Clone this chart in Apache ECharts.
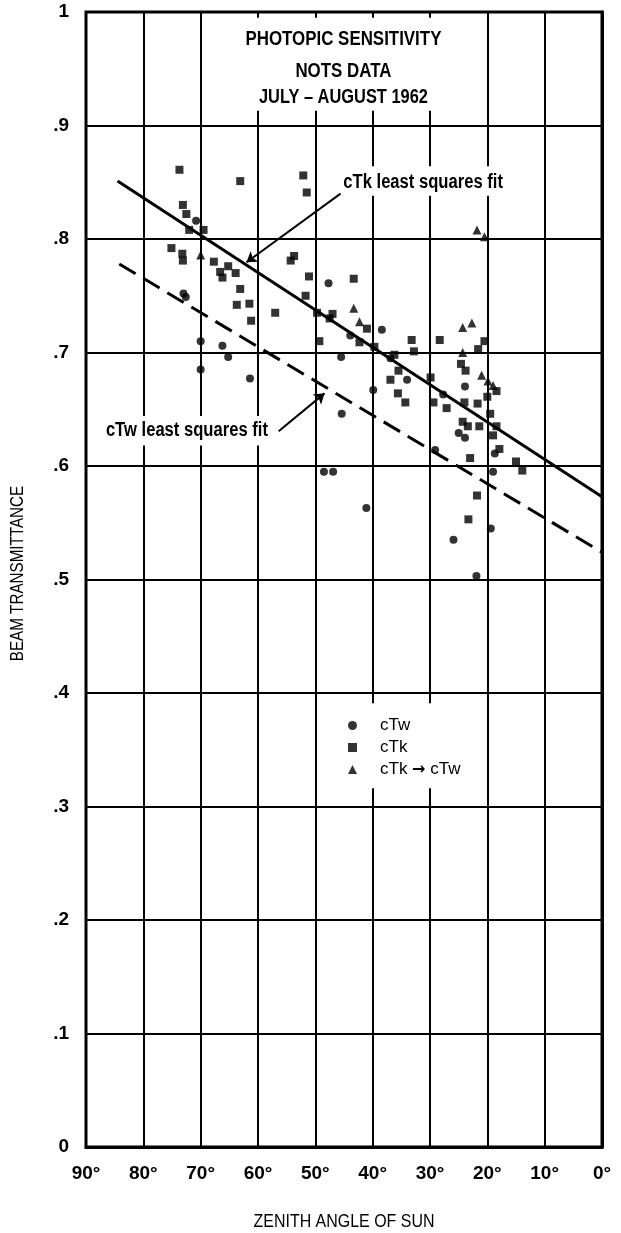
<!DOCTYPE html>
<html>
<head>
<meta charset="utf-8">
<script src="https://cdn.jsdelivr.net/npm/echarts@6/dist/echarts.min.js"></script>
<style>
  html, body { margin: 0; padding: 0; background: #fff; }
  #chart { width: 621px; height: 1233px; }
</style>
</head>
<body>
<div id="chart"></div>
<script>
// Axis ticks
const xTicks = [90, 80, 70, 60, 50, 40, 30, 20, 10, 0];
const xTickLabels = ['90°', '80°', '70°', '60°', '50°', '40°', '30°', '20°', '10°', '0°'];
const yTickLabels = ['0', '.1', '.2', '.3', '.4', '.5', '.6', '.7', '.8', '.9', '1'];

// Observations: [zenith angle (deg), beam transmittance]
const cTw = [
  [70.8, 0.816], [73.0, 0.752], [72.6, 0.749], [70.0, 0.710], [70.0, 0.685],
  [66.2, 0.706], [65.2, 0.696], [61.4, 0.677], [47.7, 0.761], [38.4, 0.720],
  [43.9, 0.715], [45.5, 0.696], [36.9, 0.695], [34.0, 0.676], [27.7, 0.663],
  [39.9, 0.667], [45.4, 0.646], [29.1, 0.614], [48.5, 0.595], [46.9, 0.595],
  [41.1, 0.563], [23.9, 0.670], [25.0, 0.629], [23.9, 0.625], [19.0, 0.595],
  [18.7, 0.611], [19.4, 0.545], [25.9, 0.535], [21.9, 0.503]
];
const cTk = [
  [73.7, 0.861], [63.1, 0.851], [52.1, 0.856], [51.5, 0.841], [73.1, 0.830],
  [72.5, 0.822], [72.0, 0.808], [69.5, 0.808], [75.1, 0.792], [73.2, 0.787],
  [73.1, 0.781], [67.7, 0.780], [66.6, 0.771], [66.2, 0.766], [65.2, 0.776],
  [63.9, 0.770], [63.1, 0.756], [63.7, 0.742], [61.5, 0.743], [61.2, 0.728],
  [57.0, 0.735], [54.3, 0.781], [53.7, 0.785], [51.1, 0.767], [51.7, 0.750],
  [49.7, 0.735], [47.0, 0.734], [47.5, 0.730], [49.3, 0.710], [43.3, 0.765],
  [41.0, 0.721], [42.3, 0.709], [39.7, 0.705], [33.2, 0.711], [32.8, 0.701],
  [28.3, 0.711], [36.2, 0.698], [35.5, 0.684], [36.9, 0.676], [35.6, 0.664],
  [34.3, 0.656], [29.9, 0.678], [29.4, 0.656], [27.1, 0.651], [20.5, 0.710],
  [21.6, 0.703], [24.6, 0.690], [23.8, 0.684], [18.4, 0.666], [20.0, 0.661],
  [24.0, 0.656], [21.7, 0.655], [19.5, 0.646], [24.3, 0.639], [23.4, 0.635],
  [21.4, 0.635], [18.4, 0.635], [19.0, 0.627], [17.9, 0.615], [23.0, 0.607],
  [15.0, 0.604], [13.9, 0.596], [21.8, 0.574], [23.3, 0.553]
];
const cTkToCTw = [
  [70.0, 0.786], [43.3, 0.739], [42.3, 0.727], [24.3, 0.722], [22.7, 0.726],
  [24.3, 0.700], [21.0, 0.680], [19.9, 0.675], [19.0, 0.671], [21.8, 0.808],
  [20.5, 0.802]
];

// Least squares fit lines (end points)
const cTkFit = [[84.5, 0.851], [0, 0.573]];
const cTwFit = [[84.2, 0.778], [0, 0.524]];

// Annotation arrows: [from, to]
const cTkArrow = [[45.6, 0.840], [62.0, 0.7795]];
const cTwArrow = [[56.4, 0.6306], [48.4, 0.664]];

const titleLines = ['PHOTOPIC SENSITIVITY', 'NOTS DATA', 'JULY – AUGUST 1962'];
const xAxisTitle = 'ZENITH ANGLE OF SUN';
const yAxisTitle = 'BEAM TRANSMITTANCE';

const FAMILY = '"Liberation Sans", Arial, sans-serif';

const chart = echarts.init(document.getElementById('chart'), null, { renderer: 'canvas' });

chart.setOption({
  backgroundColor: '#fff',
  animation: false,
  grid: {
    left: 86, right: 19, top: 12, bottom: 86,
    show: true, borderColor: '#000', borderWidth: 3, backgroundColor: 'transparent'
  },
  xAxis: {
    type: 'value', inverse: true, min: 0, max: 90, interval: 10,
    axisLine: { show: true, lineStyle: { color: '#000', width: 3 } },
    axisTick: { show: false },
    splitLine: { show: true, lineStyle: { color: '#000', width: 2 } },
    axisLabel: {
      margin: 17, color: '#000', fontFamily: FAMILY, fontWeight: 'bold', fontSize: 19,
      formatter: v => xTickLabels[xTicks.indexOf(v)]
    }
  },
  yAxis: {
    type: 'value', min: 0, max: 1, interval: 0.1,
    axisLine: { show: true, lineStyle: { color: '#000', width: 3 } },
    axisTick: { show: false },
    splitLine: { show: true, lineStyle: { color: '#000', width: 2 } },
    axisLabel: {
      margin: 17, color: '#000', fontFamily: FAMILY, fontWeight: 'bold', fontSize: 19,
      padding: [6, 0, 0, 0],
      formatter: v => yTickLabels[Math.round(v * 10)]
    }
  },
  legend: {
    orient: 'vertical', left: 343, top: 712,
    itemWidth: 9, itemHeight: 9, itemGap: 5,
    selectedMode: false,
    formatter: name => name.replace('→', '{arr|→}'),
    textStyle: {
      fontFamily: FAMILY, fontSize: 17, color: '#000', padding: [0, 0, 0, 18],
      rich: { arr: { fontFamily: '"DejaVu Sans", sans-serif', fontWeight: 'bold', fontSize: 16, color: '#000' } }
    },
    data: [
      { name: 'cTw', icon: 'circle' },
      { name: 'cTk', icon: 'rect' },
      { name: 'cTk → cTw', icon: 'triangle' }
    ]
  },
  series: [
    {
      name: 'cTk least squares fit', type: 'line', data: cTkFit, showSymbol: false, z: 3,
      lineStyle: { color: '#000', width: 3 }
    },
    {
      name: 'cTw least squares fit', type: 'line', data: cTwFit, showSymbol: false, z: 3,
      lineStyle: { color: '#000', width: 3, type: [19, 9] }
    },
    {
      name: 'arrows', type: 'lines', coordinateSystem: 'cartesian2d', z: 3,
      symbol: ['none', 'arrow'], symbolSize: 10,
      lineStyle: { color: '#000', width: 2, opacity: 1 },
      data: [{ coords: cTkArrow }, { coords: cTwArrow }]
    },
    {
      name: 'cTw', type: 'scatter', data: cTw, symbol: 'circle', symbolSize: 8, z: 4,
      itemStyle: { color: '#000' }
    },
    {
      name: 'cTk', type: 'scatter', data: cTk, symbol: 'rect', symbolSize: 8, z: 4,
      itemStyle: { color: '#000' }
    },
    {
      name: 'cTk → cTw', type: 'scatter', data: cTkToCTw, symbol: 'triangle', symbolSize: 9, z: 4,
      itemStyle: { color: '#000' }
    }
  ]
});

// White panels that clear the grid behind the annotations, and the annotation text
const px = (x, y) => chart.convertToPixel({ gridIndex: 0 }, [x, y]);
function panel(x0, y0, x1, y1) {
  const a = px(x0, y0), b = px(x1, y1);
  return {
    type: 'rect', z: 1, silent: true,
    shape: { x: Math.min(a[0], b[0]), y: Math.min(a[1], b[1]), width: Math.abs(b[0] - a[0]), height: Math.abs(b[1] - a[1]) },
    style: { fill: '#fff' }
  };
}
function label(text, p, font, sx, rot) {
  return {
    type: 'text', z: 6, silent: true, x: p[0], y: p[1], scaleX: sx, rotation: rot || 0,
    style: { text: text, font: font, fill: '#000', align: 'center', verticalAlign: 'middle' }
  };
}
const BOLD20 = 'bold 20px ' + FAMILY;
const REG19 = '19px ' + FAMILY;
const gridLeft = px(90, 0), gridRight = px(0, 0), gridTop = px(90, 1);

chart.setOption({
  graphic: [
    panel(62.7, 0.913, 27.5, 0.995),
    panel(46.0, 0.316, 23.3, 0.391),
    panel(45.8, 0.838, 16.5, 0.864),
    panel(87.3, 0.618, 57.5, 0.644),
    label(titleLines[0], px(45.1, 0.9757), BOLD20, 0.845),
    label(titleLines[1], px(45.1, 0.948), BOLD20, 0.845),
    label(titleLines[2], px(45.1, 0.9244), BOLD20, 0.82),
    label('cTk least squares fit', px(31.2, 0.850), BOLD20, 0.83),
    label('cTw least squares fit', px(72.4, 0.631), BOLD20, 0.83),
    // axis titles
    label(xAxisTitle, [(gridLeft[0] + gridRight[0]) / 2, gridLeft[1] + 75], REG19, 0.84),
    {
      type: 'text', z: 6, silent: true, x: 18, y: (gridLeft[1] + gridTop[1]) / 2 - 6,
      rotation: Math.PI / 2, scaleX: 0.8,
      style: { text: yAxisTitle, font: REG19, fill: '#000', align: 'center', verticalAlign: 'middle' }
    }
  ]
});
</script>
</body>
</html>
